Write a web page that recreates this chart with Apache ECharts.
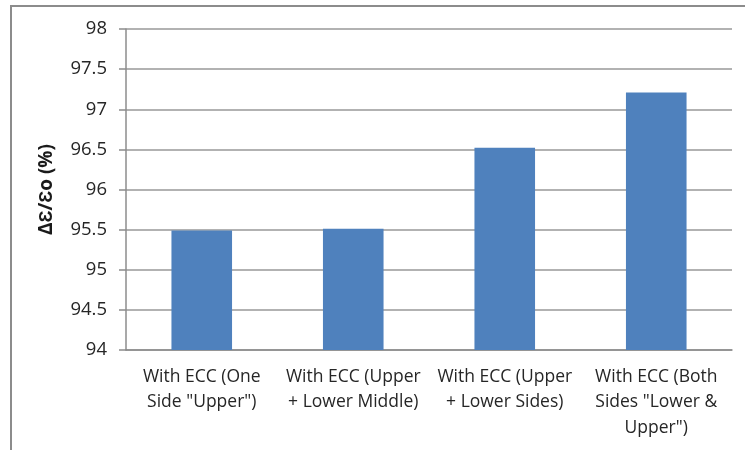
<!DOCTYPE html>
<html>
<head>
<meta charset="utf-8">
<script src="https://cdn.jsdelivr.net/npm/echarts@6/dist/echarts.min.js"></script>
<style>
  html, body { margin: 0; padding: 0; background: #fff; }
  #chart { width: 745px; height: 450px; }
</style>
</head>
<body>
<div id="chart"></div>
<script>
// Strain recovery for each ECC placement
const categories = [
  'With ECC (One\nSide "Upper")',
  'With ECC (Upper\n+ Lower Middle)',
  'With ECC (Upper\n+ Lower Sides)',
  'With ECC (Both\nSides "Lower &\nUpper")'
];
const recovery = [95.49, 95.51, 96.52, 97.21];
const yTicks = [94, 94.5, 95, 95.5, 96, 96.5, 97, 97.5, 98];

const chart = echarts.init(document.getElementById('chart'), null, { renderer: 'canvas' });
const font = '"Open Sans", "Liberation Sans", sans-serif';

chart.setOption({
  animation: false,
  backgroundColor: '#fff',
  graphic: [{
    type: 'rect',
    shape: { x: 11, y: 6, width: 800, height: 500 },
    style: { fill: 'none', stroke: '#8c8c8c', lineWidth: 2 },
    silent: true
  }],
  grid: { left: 126, right: 13, top: 29, bottom: 100 },
  xAxis: {
    type: 'category',
    data: categories,
    axisLine: { lineStyle: { color: '#8c8c8c', width: 1.5 } },
    axisTick: { show: false },
    axisLabel: {
      interval: 0,
      color: '#262626',
      fontFamily: font,
      fontSize: 17.5,
      lineHeight: 25.5,
      margin: 14
    }
  },
  yAxis: {
    type: 'value',
    min: yTicks[0],
    max: yTicks[yTicks.length - 1],
    interval: 0.5,
    name: 'ΔƐ/Ɛo (%)',
    nameLocation: 'middle',
    nameGap: 70,
    nameTextStyle: { fontFamily: font, fontWeight: 'bold', fontSize: 19, color: '#1a1a1a' },
    axisLine: { show: true, lineStyle: { color: '#8c8c8c', width: 1.5 } },
    axisTick: { show: true, length: 7, lineStyle: { color: '#8c8c8c', width: 1.5 } },
    axisLabel: {
      color: '#262626',
      fontFamily: font,
      fontSize: 18.5,
      margin: 19,
      formatter: v => String(v)
    },
    splitLine: { lineStyle: { color: '#999', width: 1.5 } }
  },
  series: [{
    type: 'bar',
    data: recovery,
    barWidth: '40%',
    itemStyle: { color: '#4f81bd' }
  }]
});
</script>
</body>
</html>
